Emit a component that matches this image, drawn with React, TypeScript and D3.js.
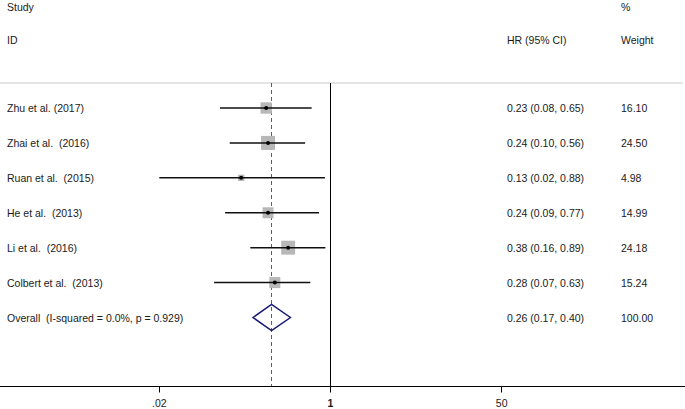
import React from 'react';
import * as d3 from 'd3';

// study rows
const studies = ['Zhu et al. (2017)', 'Zhai et al.  (2016)', 'Ruan et al.  (2015)', 'He et al.  (2013)', 'Li et al.  (2016)', 'Colbert et al.  (2013)'];
const hr = [0.23, 0.24, 0.13, 0.24, 0.38, 0.28];
const lower = [0.08, 0.10, 0.02, 0.09, 0.16, 0.07];
const upper = [0.65, 0.56, 0.88, 0.77, 0.89, 0.63];
const weights = [16.10, 24.50, 4.98, 14.99, 24.18, 15.24];

// pooled estimate
const overallLabel = 'Overall  (I-squared = 0.0%, p = 0.929)';
const overall = { hr: 0.26, lower: 0.17, upper: 0.40, weight: 100.0 };

const tickValues = [0.02, 1, 50];
const tickLabels = ['.02', '1', '50'];

const W = 685;
const H = 409;
const FONT = '"Liberation Sans", Arial, sans-serif';

// keep the double spaces of the original labels
const keepSpaces = (s: string) => s.replace(/  /g, ' \u00a0');
const crisp = (v: number) => Math.round(v) + 0.5;

export default function App() {
  const x = d3.scaleLog().domain([0.02, 50]).range([159.3, 501.7]);
  const y = d3.scaleLinear().domain([0, 6]).range([108, 317.5]);
  const side = d3.scaleSqrt().domain([0, 24.5]).range([0, 14]);

  const axisY = 386.5;
  const topY = 83;
  const fmt = (v: number) => v.toFixed(2);

  const rows = studies.map((s, i) => ({ label: s, hr: hr[i], lo: lower[i], hi: upper[i], w: weights[i], cy: y(i) }));
  const oy = y(studies.length);
  const dh = 13;
  const diamond = [
    [x(overall.lower), oy],
    [x(overall.hr), oy - dh],
    [x(overall.upper), oy],
    [x(overall.hr), oy + dh],
  ];
  const refX = crisp(x(1) - 0.5);
  const ovX = crisp(x(overall.hr) - 0.5);

  return (
    <svg width={W} height={H} style={{ position: 'absolute', left: 0, top: 0, background: '#fff' }} fontFamily={FONT} fontSize={10.5} fill="#1a1a1a">
      {/* headers */}
      <text x={7} y={11}>Study</text>
      <text x={7} y={44}>ID</text>
      <text x={507} y={44}>HR (95% CI)</text>
      <text x={621} y={11}>%</text>
      <text x={621} y={44}>Weight</text>
      <line x1={0} x2={683} y1={topY} y2={topY} stroke="#c8c8c8" strokeWidth={1} />

      {/* reference line at 1 */}
      <line x1={refX} x2={refX} y1={topY} y2={axisY} stroke="#000" strokeWidth={1} />
      {/* overall effect line */}
      <line x1={ovX} x2={ovX} y1={topY} y2={axisY} stroke="#d42c2c" strokeWidth={1} strokeDasharray="4,3" />

      {rows.map((r, i) => {
        const s = side(r.w);
        const cx = x(r.hr);
        return (
          <g key={i}>
            <text x={7} y={r.cy + 4}>{keepSpaces(r.label)}</text>
            <rect x={cx - s / 2} y={r.cy - s / 2} width={s} height={s} fill="#b8b8b8" />
            <line x1={x(r.lo)} x2={x(r.hi)} y1={r.cy} y2={r.cy} stroke="#111" strokeWidth={1.5} />
            <circle cx={cx} cy={r.cy} r={2} fill="#000" />
            <text x={507} y={r.cy + 4}>{`${fmt(r.hr)} (${fmt(r.lo)}, ${fmt(r.hi)})`}</text>
            <text x={621} y={r.cy + 4}>{fmt(r.w)}</text>
          </g>
        );
      })}

      {/* overall */}
      <text x={7} y={oy + 4}>{keepSpaces(overallLabel)}</text>
      <polygon points={diamond.map((p) => p.join(',')).join(' ')} fill="none" stroke="#1a1a7a" strokeWidth={1.5} />
      <text x={507} y={oy + 4}>{`${fmt(overall.hr)} (${fmt(overall.lower)}, ${fmt(overall.upper)})`}</text>
      <text x={621} y={oy + 4}>{fmt(overall.weight)}</text>

      {/* axis */}
      <line x1={0} x2={W} y1={axisY} y2={axisY} stroke="#000" strokeWidth={1} />
      {tickValues.map((t, i) => (
        <g key={t}>
          <line x1={crisp(x(t) - 0.5)} x2={crisp(x(t) - 0.5)} y1={axisY} y2={axisY + 6} stroke="#000" />
          <text x={x(t)} y={407} textAnchor="middle" fontWeight={t === 1 ? 'bold' : 'normal'}>{tickLabels[i]}</text>
        </g>
      ))}
    </svg>
  );
}
